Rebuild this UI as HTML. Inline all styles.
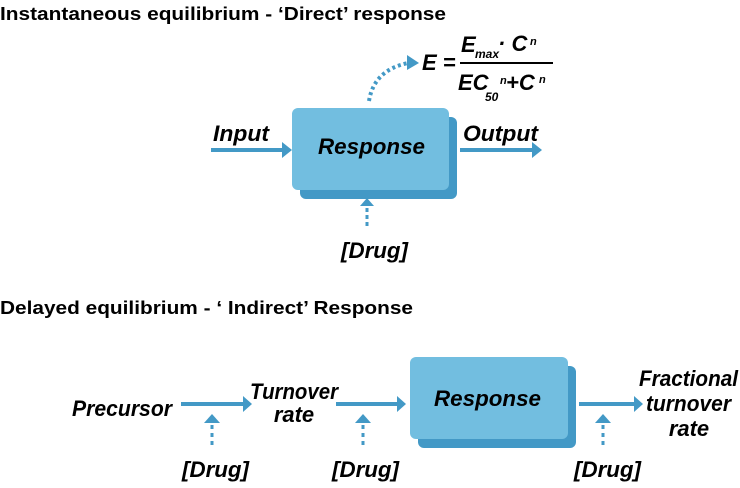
<!DOCTYPE html>
<html><head><meta charset="utf-8"><style>
html,body{margin:0;padding:0;background:#fff;}
svg{display:block;}
text{font-family:"Liberation Sans",Arial,sans-serif;fill:#000;}
.t{font-weight:bold;font-size:18px;}
.l{font-weight:bold;font-style:italic;font-size:22px;}
</style></head><body>
<svg width="740" height="488" viewBox="0 0 740 488" xmlns="http://www.w3.org/2000/svg">
<text class="t" x="0" y="20" textLength="446" lengthAdjust="spacingAndGlyphs">Instantaneous equilibrium - ‘Direct’ response</text>
<text class="t" x="0" y="314" textLength="413" lengthAdjust="spacingAndGlyphs">Delayed equilibrium - ‘ Indirect’ Response</text>

<rect x="300" y="117" width="157" height="82" rx="6" fill="#4399C6"/>
<rect x="292" y="108" width="157" height="82" rx="6" fill="#72BEE0"/>
<text class="l" x="318" y="154" textLength="107" lengthAdjust="spacingAndGlyphs">Response</text>
<rect x="211" y="148" width="72" height="4" fill="#4399C6"/>
<polygon points="282,142 292,150 282,158" fill="#4399C6"/>
<text class="l" x="213" y="141" textLength="56" lengthAdjust="spacingAndGlyphs">Input</text>
<rect x="460" y="148" width="73" height="4" fill="#4399C6"/>
<polygon points="532,142 542,150 532,158" fill="#4399C6"/>
<text class="l" x="463" y="141" textLength="75" lengthAdjust="spacingAndGlyphs">Output</text>
<line x1="367" y1="226" x2="367" y2="204" stroke="#4399C6" stroke-width="3" stroke-dasharray="4,3"/>
<polygon points="360,206 367,198 374,206" fill="#4399C6"/>
<text class="l" x="341" y="258" textLength="67" lengthAdjust="spacingAndGlyphs">[Drug]</text>
<path d="M369,101 Q374,70 408,63" fill="none" stroke="#4399C6" stroke-width="4" stroke-dasharray="3,3"/>
<polygon points="407,55 419,63 407,70" fill="#4399C6"/>
<text class="l" x="422" y="70">E =</text>
<text class="l" x="461" y="52">E</text>
<text font-weight="bold" font-style="italic" font-size="12" x="475" y="58">max</text>
<text class="l" x="498" y="51">· C</text>
<text font-weight="bold" font-style="italic" font-size="11" x="530" y="45">n</text>
<rect x="460" y="62" width="93" height="2" fill="#000"/>
<text class="l" x="458" y="90">EC</text>
<text font-weight="bold" font-style="italic" font-size="12" x="485" y="101">50</text>
<text font-weight="bold" font-style="italic" font-size="11" x="500" y="84">n</text>
<text class="l" x="506" y="90">+C</text>
<text font-weight="bold" font-style="italic" font-size="11" x="539" y="83">n</text>

<rect x="418" y="366" width="158" height="82" rx="6" fill="#4399C6"/>
<rect x="410" y="357" width="158" height="82" rx="6" fill="#72BEE0"/>
<text class="l" x="434" y="406" textLength="107" lengthAdjust="spacingAndGlyphs">Response</text>

<text class="l" x="72" y="416" textLength="100" lengthAdjust="spacingAndGlyphs">Precursor</text>
<rect x="181" y="402" width="63" height="4" fill="#4399C6"/>
<polygon points="243,396 252,404 243,412" fill="#4399C6"/>
<text class="l" x="250" y="399" textLength="88" lengthAdjust="spacingAndGlyphs">Turnover</text>
<text class="l" x="294" y="422" text-anchor="middle">rate</text>
<rect x="336" y="402" width="62" height="4" fill="#4399C6"/>
<polygon points="397,396 406,404 397,412" fill="#4399C6"/>
<rect x="579" y="402" width="56" height="4" fill="#4399C6"/>
<polygon points="634,396 643,404 634,412" fill="#4399C6"/>
<text class="l" x="639" y="386" textLength="99" lengthAdjust="spacingAndGlyphs">Fractional</text>
<text class="l" x="646" y="411" textLength="85" lengthAdjust="spacingAndGlyphs">turnover</text>
<text class="l" x="689" y="436" text-anchor="middle">rate</text>

<g fill="#4399C6">
<polygon points="204,423 212,414 220,423"/>
<polygon points="355,423 363,414 371,423"/>
<polygon points="595,423 603,414 611,423"/>
</g>
<g stroke="#4399C6" stroke-width="3" stroke-dasharray="4,4">
<line x1="212" y1="425" x2="212" y2="446"/>
<line x1="363" y1="425" x2="363" y2="446"/>
<line x1="603" y1="425" x2="603" y2="446"/>
</g>
<text class="l" x="182" y="477" textLength="67" lengthAdjust="spacingAndGlyphs">[Drug]</text>
<text class="l" x="332" y="477" textLength="67" lengthAdjust="spacingAndGlyphs">[Drug]</text>
<text class="l" x="574" y="477" textLength="67" lengthAdjust="spacingAndGlyphs">[Drug]</text>
</svg>
</body></html>
